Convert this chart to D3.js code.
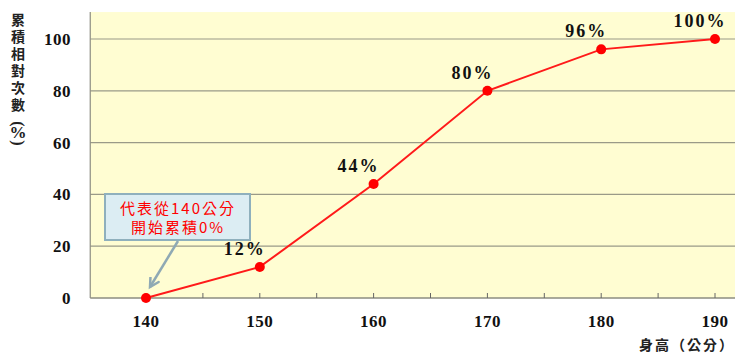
<!DOCTYPE html>
<html>
<head>
<meta charset="utf-8">
<script src="https://cdn.jsdelivr.net/npm/d3@7"></script>
<style>
  body { margin: 0; background: #fff; }
  svg { display: block; }
  .tick-label { font-family: "Liberation Serif", serif; font-weight: bold; font-size: 17px; fill: #111; }
  .cjk { font-family: "Noto Sans CJK TC", sans-serif; }
</style>
</head>
<body>
<svg id="chart" width="735" height="353"></svg>
<script>
// heights (cm) and cumulative relative frequency (%)
var heights = [140, 150, 160, 170, 180, 190]
var cumPct = [0, 12, 44, 80, 96, 100]
var pctLabels = ["", "12%", "44%", "80%", "96%", "100%"]
var yTicks = [0, 20, 40, 60, 80, 100]
var xTicks = [140, 150, 160, 170, 180, 190]
var noteLines = ["代表從140公分", "開始累積0%"]

const svg = d3.select('#chart')

const x = d3.scaleLinear().domain([140, 190]).range([146, 715])
const y = d3.scaleLinear().domain([0, 100]).range([298, 39])

const plotLeft = x(135.1), plotRight = 735, plotTop = y(110.4), plotBottom = y(0)

// background
svg.append('rect')
  .attr('x', plotLeft).attr('y', plotTop)
  .attr('width', plotRight - plotLeft).attr('height', plotBottom - plotTop)
  .attr('fill', '#fffdd2')

// gridlines
svg.append('g')
  .selectAll('line')
  .data(yTicks.filter((d) => d > 0))
  .enter()
  .append('line')
  .attr('x1', plotLeft).attr('x2', plotRight)
  .attr('y1', (d) => y(d)).attr('y2', (d) => y(d))
  .attr('stroke', '#9a9a88').attr('stroke-width', 1.2)

// axis lines
svg.append('line')
  .attr('x1', plotLeft).attr('x2', plotLeft)
  .attr('y1', plotTop).attr('y2', plotBottom)
  .attr('stroke', '#8c8c80').attr('stroke-width', 1.2)
svg.append('line')
  .attr('x1', plotLeft).attr('x2', plotRight)
  .attr('y1', plotBottom).attr('y2', plotBottom)
  .attr('stroke', '#8c8c80').attr('stroke-width', 1.5)

// x ticks every 5 cm, pointing inward
svg.append('g')
  .selectAll('line')
  .data(d3.range(140, 191, 5))
  .enter()
  .append('line')
  .attr('x1', (d) => x(d)).attr('x2', (d) => x(d))
  .attr('y1', plotBottom).attr('y2', plotBottom - 5)
  .attr('stroke', '#666').attr('stroke-width', 1)

// tick labels
svg.append('g')
  .selectAll('text')
  .data(yTicks)
  .enter()
  .append('text')
  .attr('class', 'tick-label')
  .attr('x', 71)
  .attr('y', (d) => y(d) + 6)
  .attr('text-anchor', 'end')
  .style('letter-spacing', '0.5px')
  .text((d) => d)

svg.append('g')
  .selectAll('text')
  .data(xTicks)
  .enter()
  .append('text')
  .attr('class', 'tick-label')
  .attr('x', (d) => x(d))
  .attr('y', 327)
  .attr('text-anchor', 'middle')
  .style('letter-spacing', '0.5px')
  .text((d) => d)

// y-axis title, written vertically
svg.append('text')
  .attr('class', 'cjk')
  .attr('x', 18).attr('y', 13)
  .style('writing-mode', 'vertical-rl')
  .style('text-orientation', 'upright')
  .style('letter-spacing', '3px')
  .attr('font-size', 14).attr('font-weight', 'bold').attr('fill', '#222')
  .text('累積相對次數')
// rotated parens around an upright %
svg.append('text')
  .attr('transform', 'translate(18,124) rotate(90)')
  .attr('text-anchor', 'middle').attr('dy', 5)
  .attr('font-family', 'Liberation Serif').attr('font-size', 16).attr('font-weight', 'bold')
  .attr('fill', '#222')
  .text('(')
svg.append('text')
  .attr('x', 18).attr('y', 138)
  .attr('text-anchor', 'middle')
  .attr('font-family', 'Liberation Serif').attr('font-size', 17).attr('font-weight', 'bold')
  .attr('fill', '#222')
  .text('%')
svg.append('text')
  .attr('transform', 'translate(18,143) rotate(90)')
  .attr('text-anchor', 'middle').attr('dy', 5)
  .attr('font-family', 'Liberation Serif').attr('font-size', 16).attr('font-weight', 'bold')
  .attr('fill', '#222')
  .text(')')

// x-axis title
svg.append('text')
  .attr('class', 'cjk')
  .attr('x', 735).attr('y', 350)
  .attr('text-anchor', 'end')
  .attr('font-size', 14).attr('font-weight', 'bold').attr('fill', '#222')
  .style('letter-spacing', '2px')
  .text('身高（公分）')

// line + points
const pts = heights.map((h, i) => ({ h: h, v: cumPct[i], lab: pctLabels[i] }))
const line = d3.line().x((d) => x(d.h)).y((d) => y(d.v))

svg.append('path')
  .datum(pts)
  .attr('d', line)
  .attr('fill', 'none')
  .attr('stroke', '#ff1a1a')
  .attr('stroke-width', 2)

svg.append('g')
  .selectAll('circle')
  .data(pts)
  .enter()
  .append('circle')
  .attr('cx', (d) => x(d.h)).attr('cy', (d) => y(d.v))
  .attr('r', 5)
  .attr('fill', '#ff0000')

svg.append('g')
  .selectAll('text')
  .data(pts)
  .enter()
  .append('text')
  .attr('class', 'tick-label')
  .attr('x', (d) => x(d.h) - 15)
  .attr('y', (d) => y(d.v) - 12)
  .attr('text-anchor', 'middle')
  .style('font-size', '18px')
  .style('letter-spacing', '2px')
  .text((d) => d.lab)

// callout note
const note = svg.append('g')
note.append('rect')
  .attr('x', 105).attr('y', 194)
  .attr('width', 145).attr('height', 46)
  .attr('fill', '#dcedf3')
  .attr('stroke', '#8fb0bd').attr('stroke-width', 2)
note.selectAll('text')
  .data(noteLines)
  .enter()
  .append('text')
  .attr('class', 'cjk')
  .attr('x', 178)
  .attr('y', (d, i) => 214 + i * 19)
  .attr('text-anchor', 'middle')
  .attr('font-size', 15)
  .attr('fill', '#ff0000')
  .style('letter-spacing', '2px')
  .text((d) => d)

// arrow from note to the 140 point
const ax1 = 178, ay1 = 241, ax2 = x(140) + 4, ay2 = y(0) - 11
note.append('line')
  .attr('x1', ax1).attr('y1', ay1).attr('x2', ax2).attr('y2', ay2)
  .attr('stroke', '#8fa9b4').attr('stroke-width', 2.5)
const ang = Math.atan2(ay2 - ay1, ax2 - ax1)
const head = [[ax2, ay2],
  [ax2 - 10 * Math.cos(ang - 0.5), ay2 - 10 * Math.sin(ang - 0.5)],
  [ax2, ay2],
  [ax2 - 10 * Math.cos(ang + 0.5), ay2 - 10 * Math.sin(ang + 0.5)]]
note.append('path')
  .attr('d', d3.line()(head))
  .attr('fill', 'none')
  .attr('stroke', '#8fa9b4').attr('stroke-width', 2.5)
  .attr('stroke-linecap', 'round')
</script>
</body>
</html>
